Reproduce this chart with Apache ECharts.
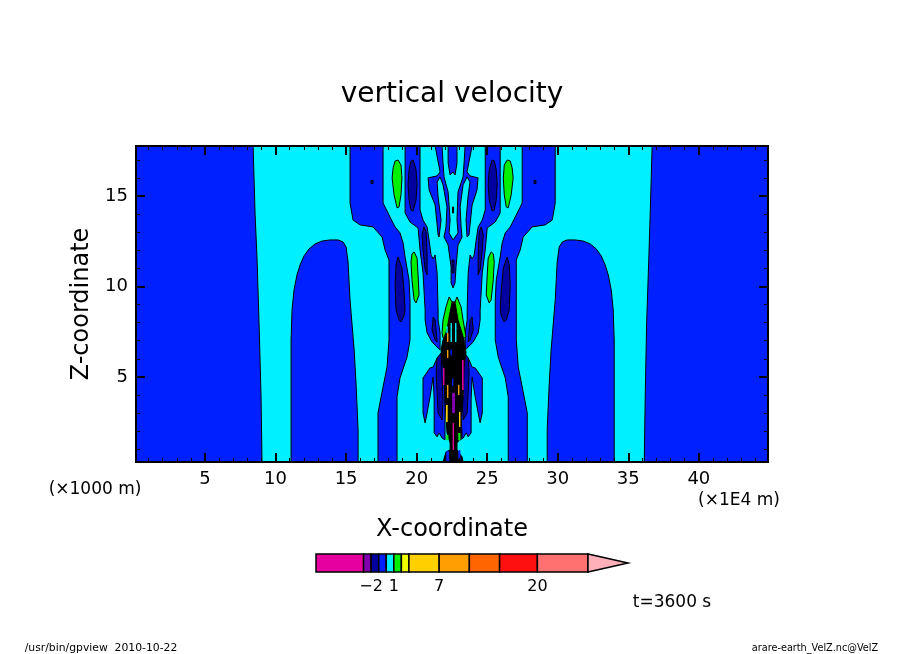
<!DOCTYPE html>
<html>
<head>
<meta charset="utf-8">
<style>html,body{margin:0;background:#fff}#main{width:904px;height:654px}</style>
<script src="https://cdn.jsdelivr.net/npm/echarts@6/dist/echarts.min.js"></script>
</head>
<body>
<div id="main"></div>
<script>
// contour outlines, [x (1E4 m), z (1000 m)]
var cyanMain = [[8.41,17.76],[8.48,15.9],[8.55,14.0],[8.69,11.5],[8.83,8],[8.97,4],[9.04,0.3],[36.13,0.3],[36.2,4],[36.3,8],[36.45,11.5],[36.55,14],[36.62,15.9],[36.69,17.76]]
var outerIslandL = [[11.10,0.3],[11.10,7.04],[11.17,8.70],[11.31,9.81],[11.52,10.64],[11.74,11.19],[12.02,11.69],[12.37,12.07],[12.80,12.35],[13.30,12.51],[13.86,12.57],[14.43,12.57],[14.78,12.46],[15.0,12.18],[15.14,11.35],[15.28,9.25],[15.57,6.49],[15.71,4.56],[15.85,2.07],[15.85,0.3]]
var outerIslandR = [[34.0,0.3],[34.0,7.04],[33.93,8.70],[33.79,9.81],[33.58,10.64],[33.36,11.19],[33.08,11.69],[32.73,12.07],[32.30,12.35],[31.80,12.51],[31.24,12.57],[30.67,12.57],[30.32,12.46],[30.10,12.18],[29.96,11.35],[29.82,9.25],[29.53,6.49],[29.39,4.56],[29.25,2.07],[29.25,0.3]]
var band1L = [[15.28,17.76],[15.28,14.61],[15.49,13.67],[15.99,13.40],[16.91,13.29],[17.55,12.73],[17.76,12.02],[18.04,11.46],[18.04,7.04],[17.90,5.55],[17.62,4.45],[17.26,3.01],[17.26,0.3],[18.61,0.3],[18.61,3.90],[18.82,4.94],[19.32,6.10],[19.53,7.04],[19.53,9.25],[19.46,10.36],[19.18,11.63],[19.04,12.40],[18.82,12.96],[18.47,13.29],[18.11,13.84],[17.62,14.61],[17.62,17.76]]
var band1R = [[29.82,17.76],[29.82,14.61],[29.61,13.67],[29.11,13.40],[28.19,13.29],[27.55,12.73],[27.34,12.02],[27.06,11.46],[27.06,7.04],[27.20,5.55],[27.48,4.45],[27.84,3.01],[27.84,0.3],[26.49,0.3],[26.49,3.90],[26.28,4.94],[25.78,6.10],[25.57,7.04],[25.57,9.25],[25.64,10.36],[25.92,11.63],[26.06,12.40],[26.28,12.96],[26.63,13.29],[26.99,13.84],[27.48,14.61],[27.48,17.76]]
var blue2L = [[19.18,17.76],[19.18,14.06],[19.53,13.56],[20.10,13.23],[20.24,12.02],[20.45,10.75],[20.60,8.70],[20.60,8.15],[20.74,7.43],[21.09,6.93],[21.66,6.49],[21.66,7.43],[21.52,8.15],[21.52,8.70],[21.45,10.75],[21.31,11.74],[21.17,11.52],[21.02,11.74],[20.88,12.57],[20.74,13.29],[20.45,13.67],[20.24,14.23],[20.24,17.76]]
var blue2R = [[25.92,17.76],[25.92,14.06],[25.57,13.56],[25.0,13.23],[24.86,12.02],[24.65,10.75],[24.5,8.70],[24.5,8.15],[24.36,7.43],[24.01,6.93],[23.44,6.49],[23.44,7.43],[23.58,8.15],[23.58,8.70],[23.65,10.75],[23.79,11.74],[23.93,11.52],[24.08,11.74],[24.22,12.57],[24.36,13.29],[24.65,13.67],[24.86,14.23],[24.86,17.76]]
var crown = [[21.31,17.76],[21.66,16.33],[21.45,16.11],[20.81,16.0],[20.88,15.33],[21.31,14.50],[21.52,12.85],[21.59,12.73],[21.73,13.67],[21.52,14.94],[21.45,15.77],[21.66,16.05],[21.87,15.61],[22.15,14.39],[22.08,13.29],[21.94,12.73],[22.23,12.29],[22.44,11.08],[22.44,10.19],[22.58,9.92],[22.72,10.19],[22.79,11.08],[22.93,12.29],[23.22,12.73],[23.15,13.29],[23.08,14.39],[23.29,15.61],[23.57,16.05],[23.78,15.77],[23.64,14.94],[23.50,13.67],[23.57,12.73],[23.71,12.85],[23.93,14.50],[24.28,15.33],[24.35,16.0],[23.78,16.11],[23.57,16.33],[23.93,17.76]]
var crownCyan = [[21.80,17.76],[21.87,16.82],[21.94,16.05],[22.23,15.22],[22.37,13.67],[22.30,12.96],[22.58,12.57],[22.93,12.96],[22.86,13.67],[22.93,15.22],[23.29,16.05],[23.36,16.82],[23.43,17.76],[22.86,17.76],[22.86,16.82],[22.72,16.16],[22.58,16.33],[22.37,16.16],[22.23,16.82],[22.23,17.76]]
var lobeL = [[21.45,6.05],[21.17,5.55],[20.95,5.50],[20.45,4.94],[20.45,3.01],[20.60,2.46],[20.74,3.01],[20.95,3.90],[21.17,5.0],[21.24,3.73],[21.24,1.91],[21.45,1.69],[21.59,1.91],[21.80,1.63],[22.01,1.52],[22.01,6.49]]
var lobeR = [[23.65,6.05],[23.93,5.55],[24.15,5.50],[24.65,4.94],[24.65,3.01],[24.5,2.46],[24.36,3.01],[24.15,3.90],[23.93,5.0],[23.86,3.73],[23.86,1.91],[23.65,1.69],[23.51,1.91],[23.3,1.63],[23.09,1.52],[23.09,6.49]]
var greenTopL = [[18.68,16.99],[18.89,16.71],[18.96,15.99],[18.89,15.06],[18.75,14.39],[18.61,14.34],[18.40,15.06],[18.26,15.99],[18.33,16.55],[18.47,16.93]]
var greenTopR = [[26.42,16.99],[26.21,16.71],[26.14,15.99],[26.21,15.06],[26.35,14.39],[26.49,14.34],[26.70,15.06],[26.84,15.99],[26.77,16.55],[26.63,16.93]]
var navyTopL = [[19.75,16.99],[19.96,16.44],[20.03,15.61],[19.96,14.78],[19.75,14.17],[19.60,14.23],[19.46,14.78],[19.39,15.61],[19.46,16.44],[19.60,16.93]]
var navyTopR = [[25.35,16.99],[25.14,16.44],[25.07,15.61],[25.14,14.78],[25.35,14.17],[25.5,14.23],[25.64,14.78],[25.71,15.61],[25.64,16.44],[25.5,16.93]]
var greenLowL = [[19.82,11.91],[20.03,11.57],[20.10,10.64],[20.17,9.53],[19.96,9.09],[19.82,9.25],[19.67,10.36],[19.60,11.35],[19.67,11.80]]
var greenLowR = [[25.28,11.91],[25.07,11.57],[25.0,10.64],[24.93,9.53],[25.14,9.09],[25.28,9.25],[25.43,10.36],[25.5,11.35],[25.43,11.80]]
var navyLowL = [[18.68,11.63],[18.96,11.02],[19.10,9.81],[19.18,8.70],[19.10,8.37],[18.89,8.04],[18.75,8.15],[18.54,8.70],[18.47,10.08],[18.54,11.19]]
var navyLowR = [[26.42,11.63],[26.14,11.02],[26.0,9.81],[25.92,8.70],[26.0,8.37],[26.21,8.04],[26.35,8.15],[26.56,8.70],[26.63,10.08],[26.56,11.19]]
var navyStrandL = [[20.52,13.29],[20.67,13.01],[20.74,11.74],[20.74,10.64],[20.60,10.91],[20.45,12.02],[20.38,12.85]]
var navyStrandR = [[24.58,13.29],[24.43,13.01],[24.36,11.74],[24.36,10.64],[24.5,10.91],[24.65,12.02],[24.72,12.85]]
var navyLobeL = [[21.45,6.05],[21.73,6.33],[21.87,3.73],[21.80,2.62],[21.52,3.01],[21.45,4.12],[21.38,5.22]]
var navyLobeR = [[23.65,6.05],[23.37,6.33],[23.23,3.73],[23.3,2.62],[23.58,3.01],[23.65,4.12],[23.72,5.22]]
var navyUpperL = [[21.17,8.31],[21.31,8.15],[21.45,6.93],[21.31,7.04],[21.09,7.60]]
var navyUpperR = [[23.93,8.31],[23.79,8.15],[23.65,6.93],[23.79,7.04],[24.01,7.60]]
var navyDotL = [[16.77,15.85],[16.91,15.85],[16.91,15.69],[16.77,15.69]]
var navyDotR = [[28.32,15.85],[28.46,15.85],[28.46,15.69],[28.32,15.69]]
var navyDashTop = [[22.54,14.39],[22.62,14.39],[22.62,14.06],[22.54,14.06]]
var navyDashMid = [[22.51,11.46],[22.65,11.46],[22.65,10.75],[22.51,10.75]]
var greenCore = [[21.80,7.43],[21.87,8.15],[22.08,8.87],[22.30,9.42],[22.51,9.14],[22.72,9.14],[22.86,9.42],[23.15,8.87],[23.29,8.15],[23.50,7.21],[23.36,7.15],[21.87,7.15]]
var blackCore = [[22.51,9.14],[22.72,9.14],[22.93,8.15],[23.15,7.60],[23.36,7.04],[23.50,6.33],[23.36,5.55],[23.29,3.73],[23.15,2.79],[23.22,1.69],[22.86,1.35],[22.86,0.97],[23.22,0.58],[23.29,0.30],[21.87,0.30],[22.08,0.86],[22.37,0.97],[22.37,1.35],[22.15,1.91],[22.08,2.79],[22.01,3.73],[21.87,5.55],[21.73,6.49],[21.87,7.04],[22.15,7.60],[22.30,8.31]]
// small strips inside the black core, [x0, x1, z0, z1]
var purpleStrips = [[22.51,22.72,4.12,3.01]]
var magentaStrips = [[21.87,21.97,5.50,4.56],[23.22,23.33,5.94,4.28],[22.55,22.65,2.46,0.97]]
var goldStrips = [[22.08,22.2,3.45,2.51],[23.0,23.1,3.07,2.24]]
var orangeStrips = [[22.15,22.25,4.56,3.84],[22.93,23.03,4.56,4.0],[22.15,22.25,6.49,6.05],[22.15,22.25,7.43,6.93]]
var cyanStrips = [[22.72,22.82,7.98,6.93],[22.4,22.5,7.98,6.93],[22.1,22.2,7.8,7.43]]
var blueStrips = [[22.5,22.6,4.9,4.5],[22.4,22.5,6.5,6.2],[22.1,22.3,0.9,0.3],[22.95,23.1,0.95,0.45]]
var greenStrips = [[22.1,22.25,1.8,1.5],[22.95,23.1,1.9,1.5]]

var xMajor = [5, 10, 15, 20, 25, 30, 35, 40]
var xMinor = [1,2,3,4,6,7,8,9,11,12,13,14,16,17,18,19,21,22,23,24,26,27,28,29,31,32,33,34,36,37,38,39,41,42,43,44]
var zMajor = [5, 10, 15]
var zMinor = [1,2,3,4,6,7,8,9,11,12,13,14,16,17]

// colour bar levels
var barLevels = [-9.3, -3, -2, -1, 0, 1, 2, 3, 7, 11, 15, 20, 26.7]
var barLabels = [-2, 1, 7, 20]
var barTip = [[26.7, 0], [32, 0.5], [26.7, 1]]

var BLUE = '#0020ff', CYAN = '#00f0ff', GREEN = '#00f000', NAVY = '#0000a0'
var barColors = ['#e600a0', '#8000b0', NAVY, BLUE, CYAN, GREEN, '#f0ff00', '#ffd000', '#ff9e00', '#ff6600', '#ff1010', '#ff7070']
var FONT = 'DejaVu Sans'

function contour(points, color) {
  return {
    type: 'custom',
    silent: true,
    animation: false,
    xAxisIndex: 0,
    yAxisIndex: 0,
    data: points,
    renderItem: function (params, api) {
      if (params.dataIndex > 0) return
      return {
        type: 'polygon',
        shape: { points: points.map(function (p) { return api.coord(p) }) },
        style: { fill: color, stroke: '#000', lineWidth: 1 }
      }
    }
  }
}

function strips(list, color) {
  return {
    type: 'custom',
    silent: true,
    animation: false,
    xAxisIndex: 0,
    yAxisIndex: 0,
    data: list,
    renderItem: function (params, api) {
      var a = api.coord([api.value(0), api.value(2)])
      var b = api.coord([api.value(1), api.value(3)])
      return {
        type: 'rect',
        shape: { x: a[0], y: a[1], width: b[0] - a[0], height: b[1] - a[1] },
        style: { fill: color }
      }
    }
  }
}

function frameAxis(position, min, max, ticks, len, width, label, extra) {
  return Object.assign({
    type: 'value',
    position: position,
    min: min,
    max: max,
    z: 5,
    splitLine: { show: false },
    axisLine: { show: true, onZero: false, lineStyle: { color: '#000', width: 2 } },
    axisTick: { show: true, inside: true, length: len, customValues: ticks, lineStyle: { color: '#000', width: width } },
    axisLabel: label ? { show: true, customValues: ticks, color: '#000', fontFamily: FONT, fontSize: 18, margin: 8 } : { show: false }
  }, extra || {})
}

var layers = [
  contour(cyanMain, CYAN),
  contour(outerIslandL, BLUE), contour(outerIslandR, BLUE),
  contour(band1L, BLUE), contour(band1R, BLUE),
  contour(blue2L, BLUE), contour(blue2R, BLUE),
  contour(crown, BLUE), contour(crownCyan, CYAN),
  contour(lobeL, BLUE), contour(lobeR, BLUE),
  contour(greenTopL, GREEN), contour(greenTopR, GREEN),
  contour(navyTopL, NAVY), contour(navyTopR, NAVY),
  contour(greenLowL, GREEN), contour(greenLowR, GREEN),
  contour(navyLowL, NAVY), contour(navyLowR, NAVY),
  contour(navyStrandL, NAVY), contour(navyStrandR, NAVY),
  contour(navyLobeL, NAVY), contour(navyLobeR, NAVY),
  contour(navyUpperL, NAVY), contour(navyUpperR, NAVY),
  contour(navyDotL, NAVY), contour(navyDotR, NAVY),
  contour(navyDashTop, NAVY), contour(navyDashMid, NAVY),
  contour(greenCore, GREEN), contour(blackCore, '#000'),
  strips(purpleStrips, '#8000b0'), strips(magentaStrips, '#e600a0'),
  strips(goldStrips, '#ffd000'), strips(orangeStrips, '#ff9e00'),
  strips(cyanStrips, CYAN), strips(blueStrips, BLUE), strips(greenStrips, GREEN)
]

var barSeries = [{
  type: 'custom',
  silent: true,
  animation: false,
  xAxisIndex: 4,
  yAxisIndex: 4,
  data: barLevels.slice(0, -1).map(function (l, i) { return [l, barLevels[i + 1], i] }),
  renderItem: function (params, api) {
    var a = api.coord([api.value(0), 1])
    var b = api.coord([api.value(1), 0])
    return {
      type: 'rect',
      shape: { x: a[0], y: a[1], width: b[0] - a[0], height: b[1] - a[1] },
      style: { fill: barColors[api.value(2)], stroke: '#000', lineWidth: 1.5 }
    }
  }
}, {
  type: 'custom',
  silent: true,
  animation: false,
  xAxisIndex: 4,
  yAxisIndex: 4,
  data: barTip,
  renderItem: function (params, api) {
    if (params.dataIndex > 0) return
    return {
      type: 'polygon',
      shape: { points: barTip.map(function (p) { return api.coord(p) }) },
      style: { fill: '#ffb0b8', stroke: '#000', lineWidth: 1.5 }
    }
  }
}]

function label(text, x, y, size, rotation) {
  return {
    type: 'text',
    x: x,
    y: y,
    rotation: rotation || 0,
    style: { text: text, fill: '#000', fontFamily: FONT, fontSize: size, align: 'center', verticalAlign: 'middle' }
  }
}

var chart = echarts.init(document.getElementById('main'), null, { renderer: 'canvas' })
chart.setOption({
  animation: false,
  backgroundColor: '#fff',
  title: {
    text: 'vertical velocity',
    left: 'center',
    top: 76,
    textStyle: { color: '#000', fontFamily: FONT, fontSize: 28, fontWeight: 'normal' }
  },
  grid: [
    { left: 136, top: 146, width: 632, height: 316, show: true, backgroundColor: BLUE, borderWidth: 0 },
    { left: 316, top: 554, width: 272, height: 18 }
  ],
  xAxis: [
    frameAxis('bottom', 0.11, 44.9, xMajor, 9, 2, true, {
      name: 'X-coordinate', nameLocation: 'middle', nameGap: 56,
      nameTextStyle: { color: '#000', fontFamily: FONT, fontSize: 24 }
    }),
    frameAxis('bottom', 0.11, 44.9, xMinor, 4, 1),
    frameAxis('top', 0.11, 44.9, xMajor, 9, 2),
    frameAxis('top', 0.11, 44.9, xMinor, 4, 1),
    {
      type: 'value', gridIndex: 1, position: 'bottom', min: -9.3, max: 26.7,
      splitLine: { show: false }, axisLine: { show: false },
      axisTick: { show: false, customValues: barLabels },
      axisLabel: {
        customValues: barLabels, color: '#000', fontFamily: FONT, fontSize: 16, margin: 7,
        formatter: function (v) { return v < 0 ? '\u2212' + (-v) : '' + v }
      }
    }
  ],
  yAxis: [
    frameAxis('left', 0.3, 17.76, zMajor, 9, 2, true, {
      name: 'Z-coordinate', nameLocation: 'middle', nameGap: 39,
      nameTextStyle: { color: '#000', fontFamily: FONT, fontSize: 24 }
    }),
    frameAxis('left', 0.3, 17.76, zMinor, 4, 1),
    frameAxis('right', 0.3, 17.76, zMajor, 9, 2),
    frameAxis('right', 0.3, 17.76, zMinor, 4, 1),
    {
      type: 'value', gridIndex: 1, min: 0, max: 1,
      splitLine: { show: false }, axisLine: { show: false }, axisTick: { show: false }, axisLabel: { show: false }
    }
  ],
  graphic: [
    label('(\u00d71000 m)', 95, 490, 17),
    label('(\u00d71E4 m)', 739, 501, 17),
    label('t=3600 s', 672, 603, 17),
    label('/usr/bin/gpview  2010-10-22', 101, 648, 10.8),
    label('arare-earth_VelZ.nc@VelZ', 815, 648, 9.7)
  ],
  series: layers.concat(barSeries)
})
</script>
</body>
</html>
